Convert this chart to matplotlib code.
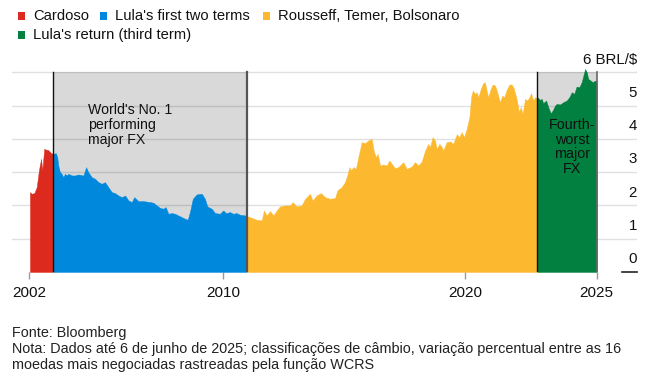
import matplotlib.pyplot as plt
from matplotlib.patches import Rectangle

plt.rcParams['font.family'] = ['Liberation Sans', 'DejaVu Sans']

# BRL per US dollar (one list per presidency)
cardoso_years = [2002.03, 2002.10, 2002.21, 2002.31, 2002.40, 2002.49, 2002.54,
                 2002.62, 2002.68, 2002.79, 2002.90, 2003.00]
cardoso_brl = [2.40, 2.35, 2.37, 2.55, 3.05, 3.40, 3.05,
               3.70, 3.68, 3.66, 3.57, 3.55]

lula1_years = [2003.00, 2003.10, 2003.16, 2003.20, 2003.27, 2003.34, 2003.41,
               2003.48, 2003.55, 2003.62, 2003.76, 2003.89, 2004.03, 2004.24,
               2004.35, 2004.44, 2004.58, 2004.72, 2004.86, 2005.00, 2005.13,
               2005.27, 2005.41, 2005.55, 2005.68, 2005.82, 2005.89, 2005.96,
               2006.10, 2006.24, 2006.34, 2006.51, 2006.71, 2006.99, 2007.13,
               2007.27, 2007.40, 2007.54, 2007.64, 2007.75, 2007.89, 2008.02,
               2008.16, 2008.30, 2008.44, 2008.55, 2008.64, 2008.76, 2008.92,
               2009.13, 2009.26, 2009.36, 2009.54, 2009.68, 2009.88, 2010.02,
               2010.13, 2010.30, 2010.43, 2010.57, 2010.71, 2010.92, 2011.00]
lula1_brl = [3.55, 3.57, 3.45, 3.20, 3.00, 2.95, 2.85,
             2.95, 2.90, 2.95, 2.90, 2.90, 2.93, 2.90,
             3.15, 3.00, 2.85, 2.80, 2.70, 2.65, 2.70,
             2.55, 2.40, 2.37, 2.30, 2.25, 2.27, 2.30,
             2.15, 2.10, 2.25, 2.13, 2.13, 2.10, 2.08,
             2.00, 1.93, 1.90, 1.95, 1.75, 1.77, 1.75,
             1.70, 1.65, 1.60, 1.57, 1.80, 2.20, 2.33,
             2.35, 2.20, 1.97, 1.90, 1.77, 1.75, 1.85,
             1.77, 1.80, 1.75, 1.77, 1.72, 1.70, 1.68]

middle_years = [2011.00, 2011.19, 2011.40, 2011.61, 2011.70, 2011.81, 2011.95,
                2012.09, 2012.23, 2012.36, 2012.57, 2012.78, 2012.89, 2013.05,
                2013.26, 2013.40, 2013.60, 2013.71, 2013.88, 2014.05, 2014.22,
                2014.43, 2014.64, 2014.73, 2014.91, 2015.05, 2015.14, 2015.23,
                2015.30, 2015.39, 2015.50, 2015.60, 2015.74, 2015.88, 2016.01,
                2016.15, 2016.25, 2016.33, 2016.40, 2016.50, 2016.63, 2016.77,
                2016.88, 2016.98, 2017.12, 2017.25, 2017.46, 2017.60, 2017.81,
                2017.94, 2018.08, 2018.22, 2018.36, 2018.49, 2018.56, 2018.67,
                2018.77, 2018.84, 2018.95, 2019.05, 2019.11, 2019.25, 2019.39,
                2019.52, 2019.67, 2019.77, 2019.87, 2019.97, 2020.08, 2020.19,
                2020.26, 2020.33, 2020.42, 2020.49, 2020.56, 2020.66, 2020.76,
                2020.83, 2020.90, 2020.97, 2021.07, 2021.15, 2021.25, 2021.34,
                2021.45, 2021.55, 2021.63, 2021.73, 2021.84, 2021.94, 2022.03,
                2022.14, 2022.24, 2022.31, 2022.39, 2022.49, 2022.58, 2022.67,
                2022.74, 2022.83, 2022.90, 2023.00]
middle_brl = [1.68, 1.63, 1.57, 1.55, 1.85, 1.70, 1.83,
              1.70, 1.85, 1.97, 2.00, 2.00, 2.10, 1.97,
              2.00, 2.20, 2.35, 2.15, 2.30, 2.37, 2.25,
              2.20, 2.22, 2.45, 2.55, 2.70, 2.90, 3.15,
              3.05, 3.15, 3.10, 3.45, 3.90, 3.87, 3.95,
              4.00, 3.60, 3.45, 3.55, 3.20, 3.23, 3.20,
              3.35, 3.25, 3.12, 3.15, 3.30, 3.10, 3.17,
              3.30, 3.20, 3.32, 3.65, 3.85, 3.75, 4.05,
              3.95, 3.70, 3.85, 3.75, 3.65, 3.90, 3.92,
              3.85, 4.14, 4.05, 4.20, 4.05, 4.30, 4.65,
              5.25, 5.45, 5.35, 5.40, 5.25, 5.50, 5.67,
              5.70, 5.45, 5.25, 5.50, 5.63, 5.60, 5.40,
              5.10, 5.30, 5.25, 5.47, 5.63, 5.63, 5.50,
              5.20, 4.80, 4.95, 4.75, 5.20, 5.15, 5.25,
              5.37, 5.15, 5.25, 5.22]

lula3_years = [2023.00, 2023.11, 2023.18, 2023.24, 2023.36, 2023.45, 2023.55,
               2023.63, 2023.73, 2023.80, 2023.93, 2024.07, 2024.21, 2024.32,
               2024.42, 2024.52, 2024.62, 2024.73, 2024.83, 2024.90, 2024.97,
               2025.04, 2025.10, 2025.20, 2025.29, 2025.38, 2025.45]
lula3_brl = [5.25, 5.17, 5.20, 5.07, 5.15, 4.95, 4.77,
             4.85, 5.00, 5.05, 5.03, 5.10, 5.15, 5.25,
             5.40, 5.35, 5.57, 5.55, 5.70, 5.90, 6.10,
             6.00, 5.80, 5.75, 5.70, 5.75, 5.73]

terms = ["Cardoso", "Lula's first two terms", "Rousseff, Temer, Bolsonaro",
         "Lula's return (third term)"]
term_colors = ['#dc2a1e', '#0088dc', '#fcb92f', '#02803f']

xtick_years = [2002, 2010, 2020, lula3_years[-1]]
xtick_labels = ['2002', '2010', '2020', '2025']
ytick_values = [0, 1, 2, 3, 4, 5, 6]
ytick_labels = ['0', '1', '2', '3', '4', '5', '6 BRL/$']

# --- figure layout, in pixels of the 654x385 output ---
W, H = 654, 385
fig = plt.figure(figsize=(W / 100, H / 100), dpi=100)
ax = fig.add_axes([12 / W, (H - 272) / H, 625 / W, 213.1 / H])
ax.set_xlim(2001.289, 2027.116)
ax.set_ylim(0, 6.4)
for s in ax.spines.values():
    s.set_visible(False)

# grey bands for the two Lula periods
ax.fill_between([2003, 2011], 0, 6, color='#d9d9d9', lw=0, zorder=0)
ax.fill_between([2023, lula3_years[-1]], 0, 6, color='#d9d9d9', lw=0, zorder=0)

for v in ytick_values[1:]:
    ax.axhline(v, color='black', alpha=0.12, lw=1, zorder=1)

series = [(cardoso_years, cardoso_brl), (lula1_years, lula1_brl),
          (middle_years, middle_brl), (lula3_years, lula3_brl)]
for (xs, ys), c in zip(series, term_colors):
    ax.fill_between(xs, 0, ys, color=c, lw=0.3, edgecolor=c, zorder=2)

# term boundaries
ax.plot([2003, 2003], [0, 6], color='#111111', lw=1.0, zorder=3)
ax.plot([2011, 2011], [0, 6], color='#555555', lw=1.6, zorder=3)
ax.plot([2023, 2023], [0, 6], color='#111111', lw=1.0, zorder=3)
ax.plot([lula3_years[-1]] * 2, [0, 6], color='#666666', lw=1.2, zorder=3)

ax.set_xticks(xtick_years, xtick_labels)
ax.tick_params(axis='x', length=4.8, width=1, color='#999999', pad=5,
               labelsize=11, labelcolor='#111111')
ax.set_yticks([])

ytrans = ax.get_yaxis_transform()
for v, lab in zip(ytick_values, ytick_labels):
    ax.text(1.0, v + 0.26, lab, transform=ytrans, ha='right', va='baseline',
            fontsize=10.8, color='#111111')
ax.plot([0.9755, 0.9995], [0, 0], transform=ytrans, color='#222222', lw=1.2,
        clip_on=False)

ax.text(2004.43, 5.08, "World's No. 1\nperforming\nmajor FX", ha='left',
        va='top', fontsize=10.2, linespacing=1.08, color='#111111', zorder=4)
ax.text(2024.43, 4.62, "Fourth-\nworst\nmajor\nFX", ha='center', va='top',
        fontsize=10.4, linespacing=1.05, color='#111111', zorder=4)

# legend drawn by hand: three items on the first row, one on the second
legend_pos = [(18.3, 16), (100, 16), (263, 16), (18.3, 35)]
for (lx, ly), name, c in zip(legend_pos, terms, term_colors):
    fig.add_artist(Rectangle((lx / W, 1 - (ly + 3.5) / H), 7 / W, 7 / H,
                             transform=fig.transFigure, color=c, lw=0))
    fig.text((lx + 15) / W, 1 - ly / H, name, va='center', fontsize=10.6,
             color='#111111')

fig.text(12 / W, 1 - 333.3 / H, 'Fonte: Bloomberg', va='center',
         fontsize=10.4, color='#222222')
fig.text(12 / W, 1 - 349 / H,
         'Nota: Dados até 6 de junho de 2025; classificações de câmbio, '
         'variação percentual entre as 16', va='center', fontsize=10.4,
         color='#222222')
fig.text(12 / W, 1 - 365 / H,
         'moedas mais negociadas rastreadas pela função WCRS', va='center',
         fontsize=10.4, color='#222222')

fig.savefig('out.png', dpi=100)
